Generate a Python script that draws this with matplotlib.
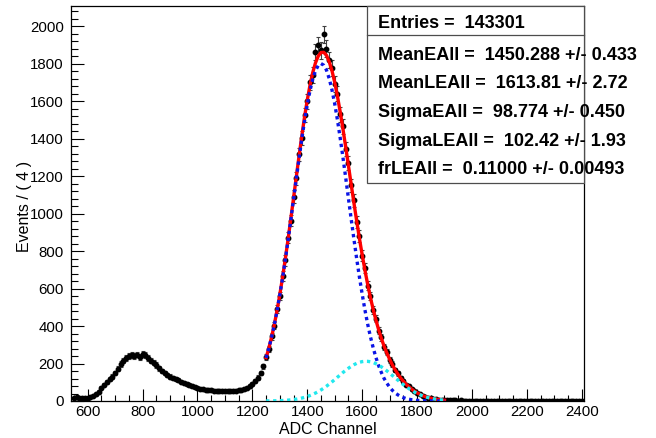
"""ADC spectrum with two-Gaussian fit, ROOT/RooFit style."""

import matplotlib

matplotlib.use("Agg")
import matplotlib.pyplot as plt
from matplotlib.lines import Line2D
from matplotlib.patches import Rectangle
from matplotlib.ticker import MultipleLocator
import numpy as np

W, H = 656, 438

# data points, 10-channel sampling
low_x = np.arange(550, 1250, 10)
low_counts = [18, 20, 16, 15, 18, 17, 22, 25, 35, 50,
              70, 88, 100, 115, 130, 150, 172, 198, 215, 228,
              238, 244, 240, 248, 236, 252, 246, 230, 215, 205,
              192, 175, 160, 150, 138, 130, 122, 116, 110, 104,
              98, 92, 86, 80, 74, 70, 66, 64, 60, 58,
              60, 56, 55, 54, 56, 52, 53, 52, 54, 55,
              57, 60, 64, 70, 80, 90, 105, 125, 150, 185]
peak_x = np.arange(1250, 1910, 10)
peak_counts = [235, 278, 345, 402, 490, 560, 665, 750, 870, 962,
               1090, 1188, 1315, 1405, 1525, 1598, 1700, 1740, 1860, 1900,
               1870, 1955, 1880, 1820, 1775, 1690, 1640, 1530, 1465, 1345,
               1270, 1150, 1070, 955, 880, 775, 710, 615, 560, 485,
               440, 375, 340, 288, 262, 220, 198, 165, 148, 122,
               108, 88, 78, 62, 54, 43, 37, 28, 24, 18,
               16, 12, 10, 8, 7, 5]
tail_x = np.arange(1910, 2410, 10)
tail_counts = [5, 4, 3, 3, 2, 3, 2, 1, 2, 1,
               1, 1, 0, 1, 1, 0, 1, 0, 1, 0,
               0, 1, 0, 0, 1, 0, 0, 0, 1, 0,
               0, 0, 0, 1, 0, 0, 0, 0, 0, 1,
               0, 0, 0, 0, 0, 0, 1, 0, 0, 0]

# fit curves
fit_x = np.arange(1250, 1910, 10)
fit_total = [231, 282, 341, 408, 484, 568, 659, 758, 862, 971,
             1083, 1195, 1306, 1413, 1514, 1605, 1685, 1752, 1804, 1840,
             1859, 1860, 1844, 1810, 1762, 1700, 1626, 1542, 1452, 1355,
             1256, 1156, 1057, 961, 868, 781, 699, 623, 553, 490,
             432, 381, 334, 292, 256, 223, 193, 167, 144, 123,
             106, 90, 76, 64, 53, 44, 36, 29, 23.5, 19,
             15, 12, 9.3, 7.2, 5.6, 4.3]
fit_main = [230, 281, 340, 407, 482, 566, 656, 754, 857, 965,
            1075, 1185, 1293, 1397, 1494, 1581, 1656, 1717, 1762, 1790,
            1800, 1791, 1765, 1720, 1660, 1586, 1499, 1403, 1300, 1192,
            1081, 971, 864, 760, 662, 571, 487, 411, 344, 285,
            233, 189, 152, 120, 95, 74, 57, 43, 33, 24,
            18, 13, 9.5, 7, 5, 3.5, 2.5, 1.8, 1.2, 0.9,
            0.6, 0.4, 0.3, 0.2, 0.1, 0.1]
fit_late = [0.4, 0.5, 0.8, 1.0, 1.4, 1.9, 2.6, 3.5, 4.6, 6.0,
            7.7, 9.8, 12.5, 15.6, 19.5, 24.0, 29.3, 35.4, 42.4, 50.2,
            59, 68.6, 79, 90.3, 102, 114, 127, 139, 152, 163.5,
            174.6, 184.7, 193.5, 200.8, 206.4, 210, 211.9, 211.6, 209.4, 205.2,
            199.2, 191.5, 182.4, 172, 160.7, 148.8, 136.4, 123.8, 111.4, 99.2,
            87.6, 76.5, 66.3, 56.8, 48.3, 40.6, 33.8, 27.9, 22.8, 18.5,
            14.8, 11.8, 9.3, 7.2, 5.6, 4.3]

stats_lines = [
    "MeanEAll =  1450.288 +/- 0.433",
    "MeanLEAll =  1613.81 +/- 2.72",
    "SigmaEAll =  98.774 +/- 0.450",
    "SigmaLEAll =  102.42 +/- 1.93",
    "frLEAll =  0.11000 +/- 0.00493",
]
entries_line = "Entries =  143301"

plt.rcParams["font.family"] = ["Liberation Sans", "DejaVu Sans"]


def fx(px):
    return px / W


def fy(py):
    return 1 - py / H


fig = plt.figure(figsize=(W / 100, H / 100), dpi=100)
ax = fig.add_axes([fx(70.7), fy(401), fx(584.3) - fx(70.7), fy(6) - fy(401)])

channels = np.concatenate([low_x, peak_x, tail_x])
counts = np.array(low_counts + peak_counts + tail_counts, dtype=float)
ax.errorbar(channels, counts, yerr=np.sqrt(counts), fmt="o", ms=3.2, color="black",
            ecolor="0.25", elinewidth=0.8, capsize=1.2, capthick=0.8, zorder=2)

ax.plot(fit_x, fit_total, color="red", lw=2.4, zorder=3)
ax.plot(fit_x, fit_main, color="#0a14e6", lw=2.4, ls=(0, (1, 1.1)), zorder=4)
ax.plot(fit_x, fit_late, color="#22e8ee", lw=2.4, ls=(0, (1, 1.1)), zorder=4)

ax.set_xlim(538, 2409.5)
ax.set_ylim(0, 2107)
ax.xaxis.set_major_locator(MultipleLocator(200))
ax.xaxis.set_minor_locator(MultipleLocator(50))
ax.yaxis.set_major_locator(MultipleLocator(200))
ax.yaxis.set_minor_locator(MultipleLocator(40))
ax.tick_params(axis="both", which="both", direction="in", labelsize=10.8, colors="black")
ax.tick_params(axis="x", which="major", length=8.5, width=0.8, pad=3)
ax.tick_params(axis="x", which="minor", length=4.2, width=0.8)
ax.tick_params(axis="y", which="major", length=9.5, width=0.8, pad=5)
ax.tick_params(axis="y", which="minor", length=5, width=0.8)
for spine in ax.spines.values():
    spine.set_linewidth(0.9)

fig.text(fx(328), fy(434.3), "ADC Channel", ha="center", va="baseline", fontsize=11.5)
fig.text(fx(24.5), fy(206), "Events / ( 4 )", ha="center", va="center",
         rotation=90, fontsize=11.5)

# stats box
box = Rectangle((fx(367), fy(183)), fx(584.3) - fx(367), fy(6) - fy(183),
                transform=fig.transFigure, facecolor="white", edgecolor="0.3",
                lw=0.9, zorder=5)
fig.patches.append(box)
fig.lines.append(Line2D([fx(367), fx(584.3)], [fy(35), fy(35)],
                        transform=fig.transFigure, color="0.3", lw=0.9, zorder=6))
fig.text(fx(378), fy(28), entries_line, ha="left", va="baseline",
         fontsize=13, fontweight="bold", zorder=7)
for i, line in enumerate(stats_lines):
    fig.text(fx(378), fy(60 + i * 28.5), line, ha="left", va="baseline",
             fontsize=13, fontweight="bold", zorder=7)

fig.savefig("out.png", dpi=100)
